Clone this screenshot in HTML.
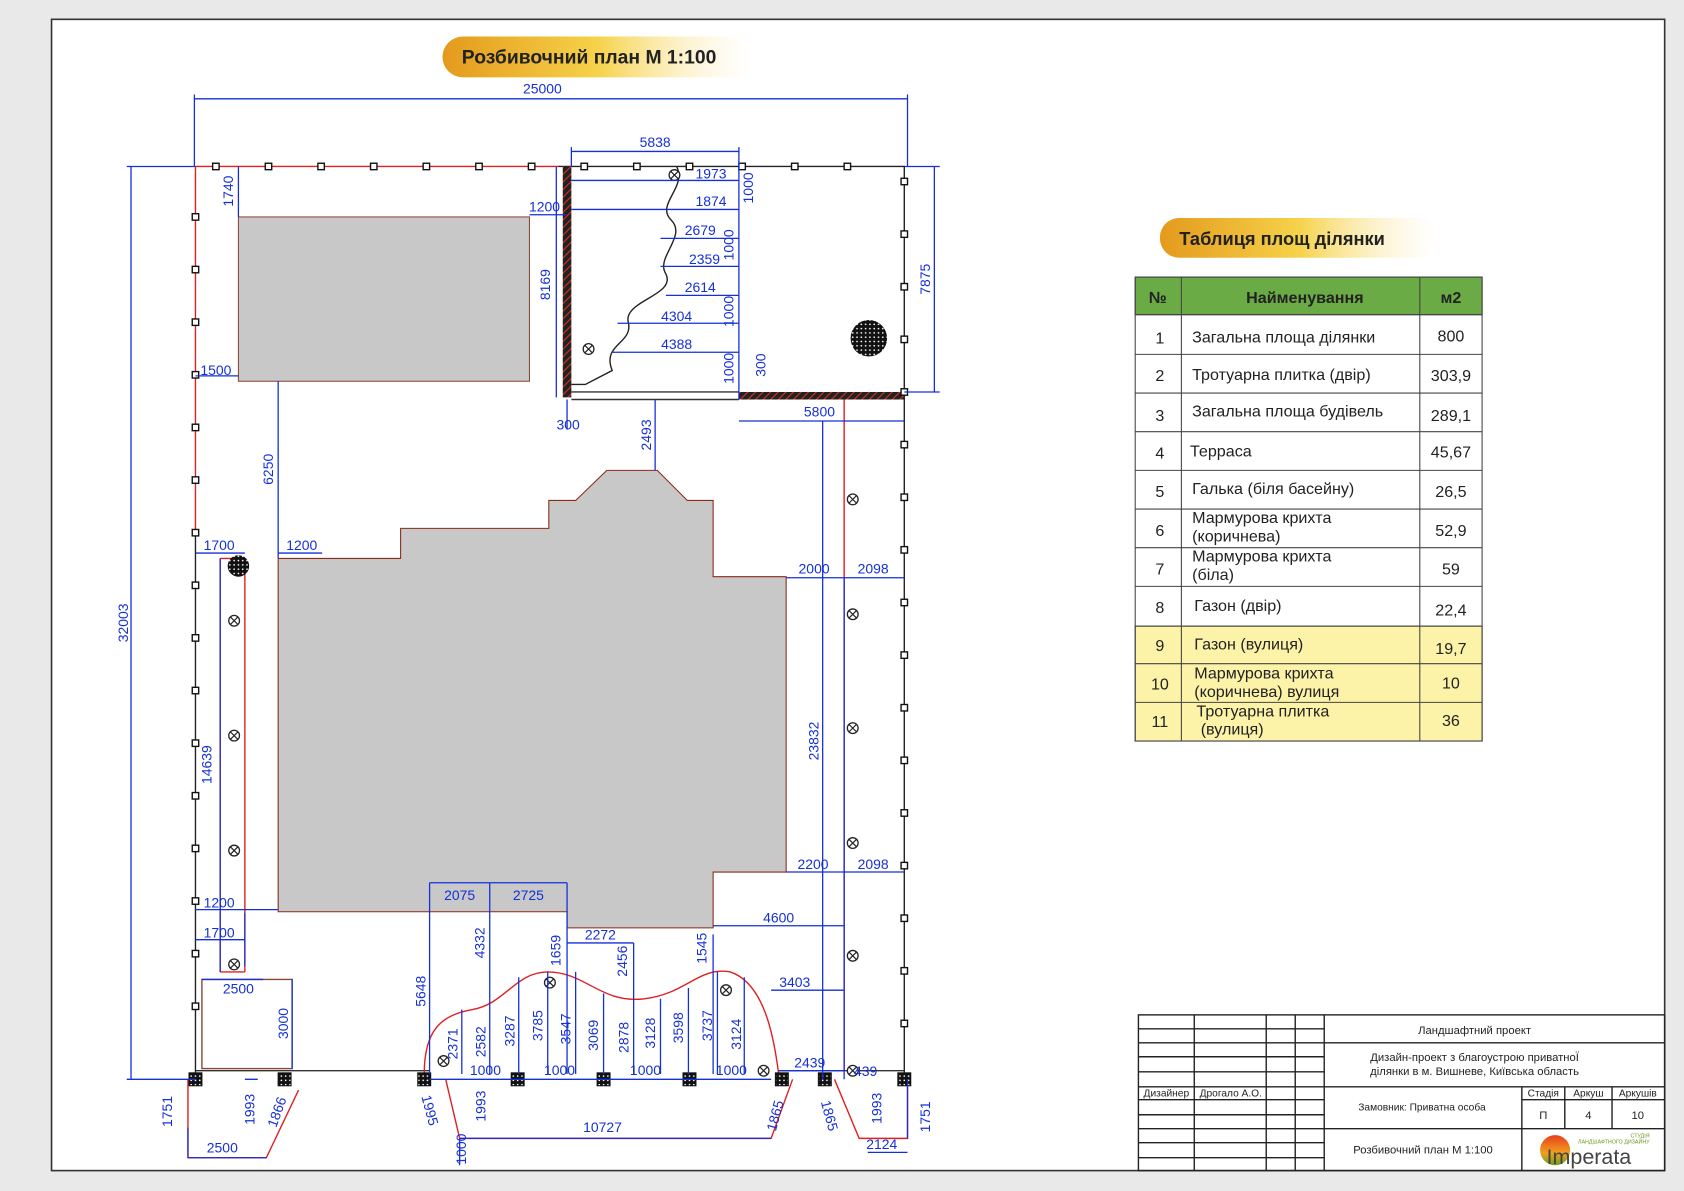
<!DOCTYPE html>
<html><head><meta charset="utf-8">
<style>
html,body{margin:0;padding:0;background:#e9e9e9;}
svg{display:block;}
text{font-family:"Liberation Sans",sans-serif;}
.d{fill:#1530d8;font-size:13px;text-anchor:middle;}
.bl{stroke:#1530d8;stroke-width:1.2;fill:none;}
</style></head><body>
<svg width="1684" height="1191" viewBox="0 0 1568 1109" preserveAspectRatio="none" xmlns="http://www.w3.org/2000/svg">
<defs>
<linearGradient id="pg" x1="0" x2="1"><stop offset="0" stop-color="#e49a1c"/><stop offset="0.5" stop-color="#f6d24a"/><stop offset="1" stop-color="#fff" stop-opacity="0.3"/></linearGradient>
<linearGradient id="lg" x1="0" y1="0" x2="0" y2="1"><stop offset="0" stop-color="#e8401a"/><stop offset="0.6" stop-color="#f0a020"/><stop offset="1" stop-color="#6aa020"/></linearGradient>
<pattern id="hat" width="5" height="5" patternUnits="userSpaceOnUse" patternTransform="rotate(45)"><rect width="5" height="5" fill="#222"/><line x1="0" y1="0" x2="0" y2="5" stroke="#e03020" stroke-width="2"/></pattern>
<pattern id="dots" width="4" height="4" patternUnits="userSpaceOnUse"><rect width="4" height="4" fill="#111"/><circle cx="2" cy="2" r="0.8" fill="#fff"/></pattern>
<g id="cx"><circle r="5" fill="#fff" stroke="#222" stroke-width="1.2"/><path d="M-3.5,-3.5 L3.5,3.5 M-3.5,3.5 L3.5,-3.5" stroke="#222" stroke-width="1.1"/></g>
</defs>
<rect x="0" y="0" width="1568" height="1109" fill="#e9e9e9"/>
<rect x="48" y="18" width="1502" height="1072" fill="#fff" stroke="#333" stroke-width="1.5"/>

<rect x="412" y="34" width="290" height="38" rx="19" fill="url(#pg)"/>
<text x="430" y="59" style="font-size:18px;font-weight:bold;fill:#222">Розбивочний план  М 1:100</text>
<rect x="1080" y="203" width="260" height="37" rx="18" fill="url(#pg)"/>
<text x="1098" y="228" style="font-size:17px;font-weight:bold;fill:#222">Таблиця площ ділянки</text>

<g stroke="#444" stroke-width="1">
<rect x="1057" y="258" width="323" height="35" fill="#6aab46"/>
<rect x="1057" y="583" width="323" height="107" fill="#fcf3a8"/>
<rect x="1057" y="258" width="323" height="432" fill="none"/>
<line x1="1100" y1="258" x2="1100" y2="690"/><line x1="1322" y1="258" x2="1322" y2="690"/>
<line x1="1057" y1="293" x2="1380" y2="293"/><line x1="1057" y1="330" x2="1380" y2="330"/><line x1="1057" y1="366" x2="1380" y2="366"/><line x1="1057" y1="402" x2="1380" y2="402"/><line x1="1057" y1="438" x2="1380" y2="438"/><line x1="1057" y1="474" x2="1380" y2="474"/><line x1="1057" y1="510" x2="1380" y2="510"/><line x1="1057" y1="546" x2="1380" y2="546"/><line x1="1057" y1="583" x2="1380" y2="583"/><line x1="1057" y1="618" x2="1380" y2="618"/><line x1="1057" y1="654" x2="1380" y2="654"/>
</g>
<g style="font-size:15px;fill:#222">
<text x="1078" y="282" text-anchor="middle" font-weight="bold">№</text><text x="1215" y="282" text-anchor="middle" font-weight="bold">Найменування</text><text x="1351" y="282" text-anchor="middle" font-weight="bold">м2</text>
<text x="1080" y="320" text-anchor="middle">1</text><text x="1110" y="319">Загальна площа ділянки</text><text x="1351" y="318" text-anchor="middle">800</text>
<text x="1080" y="355" text-anchor="middle">2</text><text x="1110" y="354">Тротуарна плитка (двір)</text><text x="1351" y="355" text-anchor="middle">303,9</text>
<text x="1080" y="392" text-anchor="middle">3</text><text x="1110" y="388">Загальна площа будівель</text><text x="1351" y="392" text-anchor="middle">289,1</text>
<text x="1080" y="427" text-anchor="middle">4</text><text x="1108" y="425">Терраса</text><text x="1351" y="426" text-anchor="middle">45,67</text>
<text x="1080" y="463" text-anchor="middle">5</text><text x="1110" y="460">Галька (біля басейну)</text><text x="1351" y="463" text-anchor="middle">26,5</text>
<text x="1080" y="499" text-anchor="middle">6</text><text x="1110" y="487">Мармурова крихта</text><text x="1110" y="504">(коричнева)</text><text x="1351" y="499" text-anchor="middle">52,9</text>
<text x="1080" y="535" text-anchor="middle">7</text><text x="1110" y="523">Мармурова крихта</text><text x="1110" y="540">(біла)</text><text x="1351" y="535" text-anchor="middle">59</text>
<text x="1080" y="571" text-anchor="middle">8</text><text x="1112" y="569">Газон (двір)</text><text x="1351" y="573" text-anchor="middle">22,4</text>
<text x="1080" y="606" text-anchor="middle">9</text><text x="1112" y="605">Газон (вулиця)</text><text x="1351" y="609" text-anchor="middle">19,7</text>
<text x="1080" y="642" text-anchor="middle">10</text><text x="1112" y="632">Мармурова крихта</text><text x="1112" y="649">(коричнева) вулиця</text><text x="1351" y="641" text-anchor="middle">10</text>
<text x="1080" y="677" text-anchor="middle">11</text><text x="1114" y="667">Тротуарна плитка</text><text x="1118" y="684">(вулиця)</text><text x="1351" y="676" text-anchor="middle">36</text>
</g>

<g stroke="#222" stroke-width="1.3" fill="none">
<rect x="1060" y="945" width="490" height="145"/>
<line x1="1112" y1="945" x2="1112" y2="1090"/><line x1="1179" y1="945" x2="1179" y2="1090"/><line x1="1206" y1="945" x2="1206" y2="1090"/><line x1="1233" y1="945" x2="1233" y2="1090"/>
<line x1="1060" y1="958" x2="1233" y2="958"/><line x1="1060" y1="971" x2="1550" y2="971"/><line x1="1060" y1="984" x2="1233" y2="984"/><line x1="1060" y1="998" x2="1233" y2="998"/><line x1="1060" y1="1012" x2="1550" y2="1012"/><line x1="1060" y1="1024" x2="1233" y2="1024"/><line x1="1060" y1="1038" x2="1233" y2="1038"/><line x1="1060" y1="1051" x2="1550" y2="1051"/><line x1="1060" y1="1064" x2="1233" y2="1064"/><line x1="1060" y1="1078" x2="1233" y2="1078"/>
<line x1="1417" y1="1012" x2="1417" y2="1090"/><line x1="1457" y1="1012" x2="1457" y2="1051"/><line x1="1501" y1="1012" x2="1501" y2="1051"/><line x1="1417" y1="1024" x2="1550" y2="1024"/>
</g>
<g style="font-size:10.5px;fill:#222" text-anchor="middle">
<text x="1373" y="963">Ландшафтний проект</text>
<text x="1373" y="988">Дизайн-проект з благоустрою приватноЇ</text>
<text x="1373" y="1001">ділянки в м. Вишневе, Київська область</text>
<text x="1086" y="1021" style="font-size:9.5px">Дизайнер</text><text x="1146" y="1021" style="font-size:9.5px">Дрогало А.О.</text>
<text x="1324" y="1034" style="font-size:9.5px">Замовник: Приватна особа</text>
<text x="1437" y="1021" style="font-size:9.5px">Стадія</text><text x="1479" y="1021" style="font-size:9.5px">Аркуш</text><text x="1525" y="1021" style="font-size:9.5px">Аркушів</text>
<text x="1437" y="1042">П</text><text x="1479" y="1042">4</text><text x="1525" y="1042">10</text>
<text x="1325" y="1074">Розбивочний план М 1:100</text>
</g>
<circle cx="1448" cy="1071" r="14" fill="url(#lg)"/>
<text x="1440" y="1084" style="font-size:20px;fill:#444">Imperata</text>
<text x="1536" y="1059" style="font-size:5px;fill:#6a9a20" text-anchor="end">СТУДІЯ</text>
<text x="1536" y="1065" style="font-size:5px;fill:#6a9a20" text-anchor="end">ЛАНДШАФТНОГО ДИЗАЙНУ</text>

<rect x="222" y="202" width="271" height="153" fill="#c8c8c8" stroke="#8a4a3a" stroke-width="1"/>
<polygon points="259,520 373,520 373,492 511,492 511,466 536,466 565,438 612,438 640,466 664,466 664,537 732,537 732,812 664,812 664,864 528,864 528,849 259,849" fill="#c8c8c8" stroke="#8a2a1a" stroke-width="1"/>

<g fill="none" stroke-width="1.3">
<path d="M182,155 H520 M182,155 V495" stroke="#e02020"/>
<path d="M520,155 H842 V1005 M182,495 V1005" stroke="#222"/>
<path d="M182,997 H400 M725,997 H842 M532,365 H688 M532,372 H688" stroke="#333"/>
<path d="M205,520 V905 M228,520 V905 M205,520 H228 M205,905 H228 M786,372 V997" stroke="#e02020"/>
<rect x="188" y="912" width="84" height="83" stroke="#8a4a3a"/>
<path d="M395,1000 C395,960 410,945 440,940 C470,935 480,905 510,905 C545,905 560,935 600,930 C640,925 650,900 680,905 C710,915 720,960 725,1000" stroke="#e02020"/>
<path d="M630,155 C640,175 610,190 625,205 C640,220 610,240 620,255 C630,275 580,280 585,300 C590,320 560,320 570,345 L545,358 L532,358" stroke="#222"/>
<path d="M175,1005 V1078 H248 L278,1015 M415,1005 L428,1060 H718 L738,1005 M777,1005 L800,1060 H845 V1005" stroke="#e02020"/>
</g>
<rect x="524" y="155" width="8" height="215" fill="url(#hat)"/>
<rect x="688" y="365" width="154" height="7" fill="url(#hat)"/>

<g fill="#fff" stroke="#111" stroke-width="1.3">
<rect x="198" y="152" width="6" height="6"/><rect x="247" y="152" width="6" height="6"/><rect x="296" y="152" width="6" height="6"/><rect x="345" y="152" width="6" height="6"/><rect x="394" y="152" width="6" height="6"/><rect x="443" y="152" width="6" height="6"/><rect x="492" y="152" width="6" height="6"/><rect x="541" y="152" width="6" height="6"/><rect x="590" y="152" width="6" height="6"/><rect x="639" y="152" width="6" height="6"/><rect x="688" y="152" width="6" height="6"/><rect x="737" y="152" width="6" height="6"/><rect x="786" y="152" width="6" height="6"/>
<rect x="179" y="199" width="6" height="6"/><rect x="179" y="248" width="6" height="6"/><rect x="179" y="297" width="6" height="6"/><rect x="179" y="346" width="6" height="6"/><rect x="179" y="395" width="6" height="6"/><rect x="179" y="444" width="6" height="6"/><rect x="179" y="493" width="6" height="6"/><rect x="179" y="542" width="6" height="6"/><rect x="179" y="591" width="6" height="6"/><rect x="179" y="640" width="6" height="6"/><rect x="179" y="689" width="6" height="6"/><rect x="179" y="738" width="6" height="6"/><rect x="179" y="787" width="6" height="6"/><rect x="179" y="836" width="6" height="6"/><rect x="179" y="885" width="6" height="6"/><rect x="179" y="934" width="6" height="6"/>
<rect x="839" y="166" width="6" height="6"/><rect x="839" y="215" width="6" height="6"/><rect x="839" y="264" width="6" height="6"/><rect x="839" y="313" width="6" height="6"/><rect x="839" y="362" width="6" height="6"/><rect x="839" y="411" width="6" height="6"/><rect x="839" y="460" width="6" height="6"/><rect x="839" y="509" width="6" height="6"/><rect x="839" y="558" width="6" height="6"/><rect x="839" y="607" width="6" height="6"/><rect x="839" y="656" width="6" height="6"/><rect x="839" y="705" width="6" height="6"/><rect x="839" y="754" width="6" height="6"/><rect x="839" y="803" width="6" height="6"/><rect x="839" y="852" width="6" height="6"/><rect x="839" y="901" width="6" height="6"/><rect x="839" y="950" width="6" height="6"/>
</g>
<g fill="url(#dots)" stroke="#111">
<rect x="176" y="999" width="12" height="12"/><rect x="259" y="999" width="12" height="12"/><rect x="389" y="999" width="12" height="12"/><rect x="476" y="999" width="12" height="12"/><rect x="556" y="999" width="12" height="12"/><rect x="636" y="999" width="12" height="12"/><rect x="722" y="999" width="12" height="12"/><rect x="762" y="999" width="12" height="12"/><rect x="836" y="999" width="12" height="12"/>
</g>
<circle cx="809" cy="315" r="17" fill="url(#dots)"/>
<circle cx="222" cy="527" r="10" fill="url(#dots)"/>
<use href="#cx" x="628" y="163"/><use href="#cx" x="548" y="325"/><use href="#cx" x="218" y="578"/><use href="#cx" x="218" y="685"/><use href="#cx" x="218" y="792"/><use href="#cx" x="218" y="898"/><use href="#cx" x="794" y="465"/><use href="#cx" x="794" y="572"/><use href="#cx" x="794" y="678"/><use href="#cx" x="794" y="785"/><use href="#cx" x="794" y="890"/><use href="#cx" x="512" y="915"/><use href="#cx" x="676" y="922"/><use href="#cx" x="711" y="997"/><use href="#cx" x="794" y="997"/><use href="#cx" x="413" y="988"/>

<path class="bl" d="M181,92 H845 M181,88 V155 M845,88 V155 M122,155 V1005 M118,155 H182 M118,1005 H182 M532,141 H688 M532,137 V155 M688,137 V370 M870,155 V365 M842,155 H875 M842,365 H875 M518,155 V370 M222,155 V202 M493,200 H528 M182,350 H222 M259,355 V520 M182,515 H228 M259,515 H300 M205,520 V905 M182,847 H259 M182,875 H228 M228,850 V900 M188,912 H245 M272,912 V995 M610,372 V438 M688,392 H842 M528,372 V400 M688,330 V372 M732,538 H842 M786,538 V1005 M766,392 V1005 M732,812 H842 M400,822 H528 M400,822 V1000 M456,822 V1000 M528,822 V1000 M664,862 H786 M528,878 H590 M590,878 V1000 M664,870 V1000 M718,922 H786 M430,940 V1000 M483,910 V1000 M510,905 V1000 M536,905 V1000 M562,925 V1000 M615,930 V1000 M641,920 V1000 M668,905 V1000 M693,910 V1000 M725,997 H786 M400,1005 H718 M428,1060 H718 M428,1060 V1085 M175,1078 H248 M175,1050 V1078 M228,1005 H240 M808,1073 H845 M845,1005 V1060 M532,168 H688 M532,195 H688 M615,222 H688 M615,248 H688 M620,275 H688 M575,301 H688 M570,328 H688"/>
<g class="d">
<text x="505" y="87">25000</text>
<text x="610" y="137">5838</text>
<text x="662" y="166">1973</text><text x="662" y="192">1874</text><text x="652" y="219">2679</text><text x="656" y="246">2359</text><text x="652" y="272">2614</text><text x="630" y="299">4304</text><text x="630" y="325">4388</text>
<text x="507" y="197">1200</text><text x="201" y="349">1500</text>
<text x="204" y="512">1700</text><text x="281" y="512">1200</text>
<text x="204" y="845">1200</text><text x="204" y="873">1700</text>
<text x="222" y="925">2500</text>
<text x="529" y="400">300</text><text x="763" y="388">5800</text>
<text x="758" y="534">2000</text><text x="813" y="534">2098</text>
<text x="757" y="809">2200</text><text x="813" y="809">2098</text>
<text x="428" y="838">2075</text><text x="492" y="838">2725</text>
<text x="725" y="859">4600</text><text x="559" y="875">2272</text><text x="740" y="919">3403</text>
<text x="452" y="1001">1000</text><text x="521" y="1001">1000</text><text x="601" y="1001">1000</text><text x="681" y="1001">1000</text>
<text x="754" y="994">2439</text><text x="806" y="1002">439</text>
<text x="207" y="1073">2500</text><text x="561" y="1054">10727</text><text x="821" y="1070">2124</text>
</g>
<g class="d">
<text transform="translate(119,580) rotate(-90)">32003</text>
<text transform="translate(866,260) rotate(-90)">7875</text>
<text transform="translate(512,265) rotate(-90)">8169</text>
<text transform="translate(217,178) rotate(-90)">1740</text>
<text transform="translate(254,437) rotate(-90)">6250</text>
<text transform="translate(197,712) rotate(-90)">14639</text>
<text transform="translate(268,953) rotate(-90)">3000</text>
<text transform="translate(606,405) rotate(-90)">2493</text>
<text transform="translate(713,340) rotate(-90)">300</text>
<text transform="translate(701,175) rotate(-90)">1000</text><text transform="translate(683,228) rotate(-90)">1000</text><text transform="translate(683,290) rotate(-90)">1000</text><text transform="translate(683,343) rotate(-90)">1000</text>
<text transform="translate(762,690) rotate(-90)">23832</text>
<text transform="translate(396,923) rotate(-90)">5648</text>
<text transform="translate(451,878) rotate(-90)">4332</text>
<text transform="translate(522,885) rotate(-90)">1659</text>
<text transform="translate(584,895) rotate(-90)">2456</text>
<text transform="translate(658,883) rotate(-90)">1545</text>
<text transform="translate(426,972) rotate(-90)">2371</text>
<text transform="translate(452,970) rotate(-90)">2582</text>
<text transform="translate(479,960) rotate(-90)">3287</text>
<text transform="translate(505,955) rotate(-90)">3785</text>
<text transform="translate(531,958) rotate(-90)">3547</text>
<text transform="translate(557,964) rotate(-90)">3069</text>
<text transform="translate(585,966) rotate(-90)">2878</text>
<text transform="translate(610,962) rotate(-90)">3128</text>
<text transform="translate(636,957) rotate(-90)">3598</text>
<text transform="translate(663,955) rotate(-90)">3737</text>
<text transform="translate(690,963) rotate(-90)">3124</text>
<text transform="translate(160,1035) rotate(-90)">1751</text>
<text transform="translate(237,1033) rotate(-90)">1993</text>
<text transform="translate(262,1037) rotate(-70)">1866</text>
<text transform="translate(396,1035) rotate(75)">1995</text>
<text transform="translate(452,1030) rotate(-90)">1993</text>
<text transform="translate(434,1070) rotate(-90)">1000</text>
<text transform="translate(726,1040) rotate(-75)">1865</text>
<text transform="translate(768,1040) rotate(75)">1865</text>
<text transform="translate(821,1032) rotate(-90)">1993</text>
<text transform="translate(866,1040) rotate(-90)">1751</text>
</g>
</svg>
</body></html>
